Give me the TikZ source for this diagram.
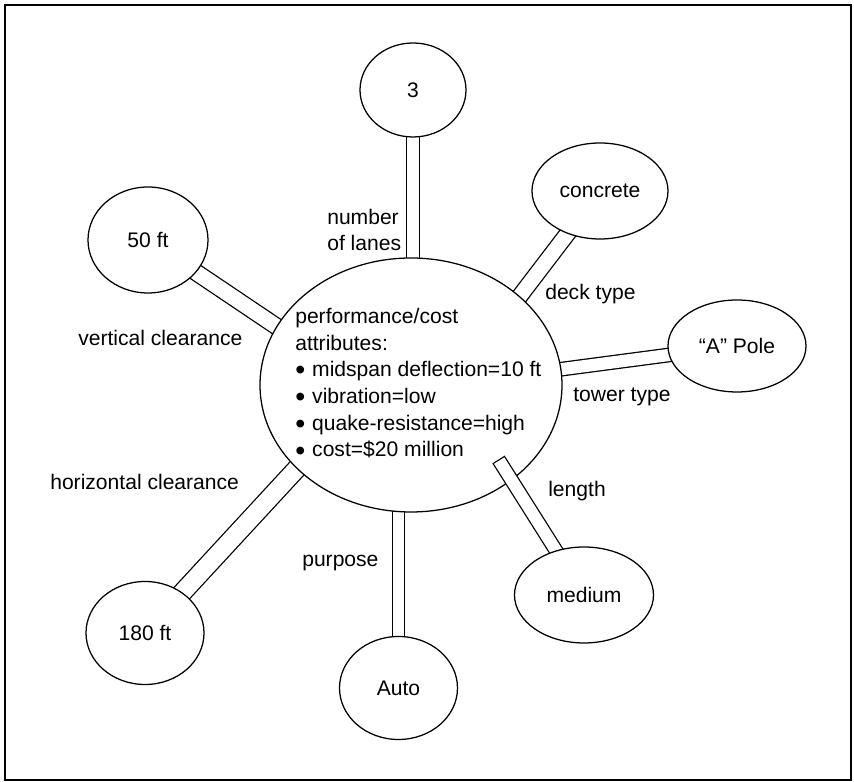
\documentclass[tikz,border=0pt]{standalone}
\usepackage{fontspec}
\setmainfont{Liberation Sans}
\usetikzlibrary{shapes.geometric}
\pgfdeclarelayer{bg}
\pgfdeclarelayer{fg}
\pgfsetlayers{bg,main,fg}
\newcommand{\bul}{\raisebox{-0.15em}{\scalebox{1.35}{•}}\hspace{0.33em}}

\begin{document}
\begin{tikzpicture}[line join=miter,every node/.style={inner sep=0pt,font=\fontsize{15}{19}\selectfont},
  valbox/.style={ellipse,draw,fill=white,line width=0.9pt},
  linkbar/.style={draw,line width=0.9pt,double=white,double distance=#1}]
  \useasboundingbox (0,0) rectangle (21.35,19.55);
  \draw[line width=2.1pt] (0.125,0.05) rectangle (21.275,19.425);
  % values hanging off the bridge
  \begin{pgfonlayer}{fg}
    \node[valbox,minimum width=2.65cm,minimum height=2.35cm] (lanes) at (10.325,17.3) {3};
    \node[valbox,minimum width=3.4cm,minimum height=2.4cm] (deck) at (15,14.775) {concrete};
    \node[valbox,minimum width=3.45cm,minimum height=2.3cm] (tower) at (18.425,10.9) {“A” Pole};
    \node[valbox,minimum width=3.475cm,minimum height=2.4cm] (length) at (14.6,4.675) {medium};
    \node[valbox,minimum width=2.95cm,minimum height=2.575cm] (purpose) at (9.9625,2.35) {Auto};
    \node[valbox,minimum width=2.95cm,minimum height=2.575cm] (hclear) at (3.625,3.725) {180 ft};
    \node[valbox,minimum width=3cm,minimum height=2.65cm] (vclear) at (3.7,13.55) {50 ft};
  \end{pgfonlayer}
  \node[valbox,minimum width=7.55cm,minimum height=6.35cm] (bridge) at (10.275,9.925) {};
  \node[anchor=north west,align=left] (attrs) at (7.375,11.855) {performance/cost\\attributes:\\
    \bul midspan deflection=10 ft\\\bul vibration=low\\
    \bul quake-resistance=high\\\bul cost=\$20 million};
  % feet of the links, hidden inside the bridge
  \coordinate (lanesfoot) at (10.325,12.05);
  \coordinate (deckfoot) at (12.425,11.4);
  \coordinate (towerfoot) at (13.5,10.25);
  \coordinate (purposefoot) at (9.9625,8.05);
  \coordinate (hclearfoot) at (7.975,8.435);
  \coordinate (vclearfoot) at (7.75,10.825);
  \coordinate (lengthtop) at (12.56,7.9075);
  \begin{pgfonlayer}{bg}
    \draw[linkbar=8.24pt] (lanesfoot) -- (lanes.center);
    \draw[linkbar=10.5pt] (deckfoot) -- (deck.center);
    \draw[linkbar=8.7pt] (towerfoot) -- (tower.center);
    \draw[linkbar=7.63pt] (purposefoot) -- (purpose.center);
    \draw[linkbar=12.6pt] (hclearfoot) -- (hclear.center);
    \draw[linkbar=10.8pt] (vclearfoot) -- (vclear.center);
  \end{pgfonlayer}
  % this one sits on top of the bridge
  \draw[linkbar=8.6pt,line cap=rect] (lengthtop) -- (length.center);
  % attribute names
  \node[anchor=north west,align=left] (laneslbl) at (8.175,14.3375) {number\\of lanes};
  \node[anchor=base west] (decklbl) at (13.625,12.05) {deck type};
  \node[anchor=base west] (vclearlbl) at (1.95,10.9) {vertical clearance};
  \node[anchor=base west] (towerlbl) at (14.325,9.5075) {tower type};
  \node[anchor=base west] (lengthlbl) at (13.7,7.1325) {length};
  \node[anchor=base west] (hclearlbl) at (1.25,7.3) {horizontal clearance};
  \node[anchor=base west] (purposelbl) at (7.55,5.3825) {purpose};
\end{tikzpicture}
\end{document}
